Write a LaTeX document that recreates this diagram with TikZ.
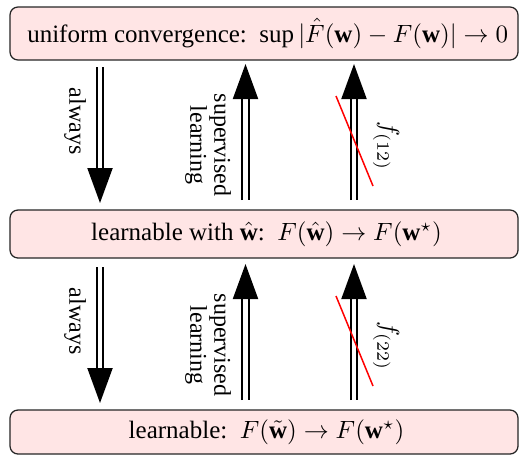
\documentclass[tikz,border=0pt]{standalone}
\usepackage{fontspec}
\setmainfont{Liberation Serif}
\usetikzlibrary{arrows.meta}
\begin{document}
\begin{tikzpicture}[x=0.4pt,y=-0.4pt,
  box/.style={draw=black!85, line width=0.5pt, fill=red!10, rounded corners=3.2pt,
    inner sep=0pt, minimum width=203.2pt, font=\fontsize{10}{12}\selectfont},
  arr/.style={double, line width=0.8pt, double distance=1.8pt,
    -{Triangle[length=14pt,width=10pt]}},
  lab/.style={inner sep=0pt, rotate=-90, font=\fontsize{9.6}{10.8}\selectfont},
  cross/.style={red, line width=0.6pt}]
\useasboundingbox (0,0) rectangle (519,456);
\node[box, minimum height=21.2pt] (top) at (264,33.5) {\hspace*{3pt}uniform convergence:\ \ $\sup|\hat{F}(\mathbf{w})-F(\mathbf{w})|\rightarrow 0$};
\node[box, minimum height=19.2pt] (mid) at (264,234) {\hspace*{2pt}learnable with $\hat{\mathbf{w}}$:\ \ $F(\hat{\mathbf{w}})\rightarrow F(\mathbf{w}^\star)$};
\node[box, minimum height=17.6pt] (bot) at (264,432) {\hspace*{2pt}learnable:\ \ $F(\tilde{\mathbf{w}})\rightarrow F(\mathbf{w}^\star)$};
% section 1
\coordinate (d1s) at (100,67); \coordinate (d1e) at (100,203);
\coordinate (s1s) at (245.5,200); \coordinate (s1e) at (245.5,64);
\coordinate (n1s) at (354,200); \coordinate (n1e) at (354,64);
\coordinate (r1a) at (336,96); \coordinate (r1b) at (373,186);
\draw[arr] (d1s) -- (d1e);
\draw[arr] (s1s) -- (s1e);
\draw[arr] (n1s) -- (n1e);
\draw[cross] (r1a) -- (r1b);
\node[lab] (al1) at (75,121) {always};
\node[lab, align=center] (sl1) at (208,145) {supervised\\[-1.2pt]learning};
\node[lab] (f1) at (386,146) {$f_{(12)}$};
% section 2
\coordinate (d2s) at (100,267); \coordinate (d2e) at (100,403);
\coordinate (s2s) at (245.5,400); \coordinate (s2e) at (245.5,264);
\coordinate (n2s) at (354,400); \coordinate (n2e) at (354,264);
\coordinate (r2a) at (336,296); \coordinate (r2b) at (373,386);
\draw[arr] (d2s) -- (d2e);
\draw[arr] (s2s) -- (s2e);
\draw[arr] (n2s) -- (n2e);
\draw[cross] (r2a) -- (r2b);
\node[lab] (al2) at (75,321) {always};
\node[lab, align=center] (sl2) at (208,345) {supervised\\[-1.2pt]learning};
\node[lab] (f2) at (386,346) {$f_{(22)}$};
\end{tikzpicture}
\end{document}
